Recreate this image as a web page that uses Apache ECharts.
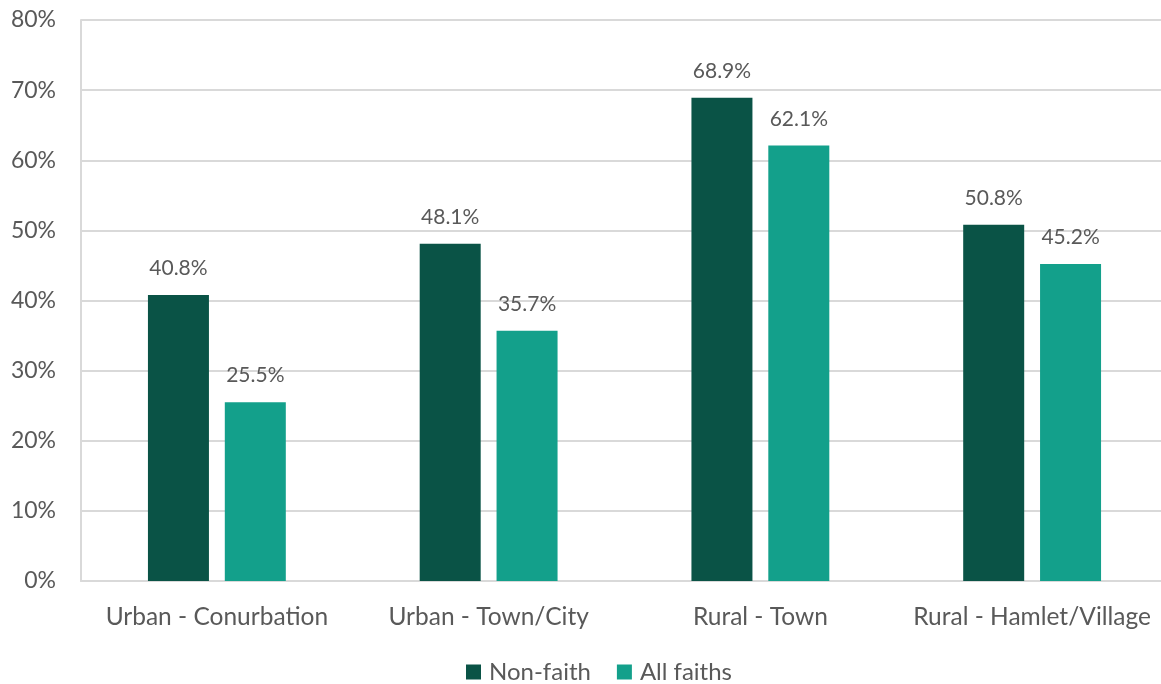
<!DOCTYPE html>
<html>
<head>
<meta charset="utf-8">
<script src="https://cdn.jsdelivr.net/npm/echarts@6/dist/echarts.min.js"></script>
<style>
  html, body { margin: 0; padding: 0; background: #fff; overflow: hidden; }
  #chart { width: 1168px; height: 684px; }
</style>
</head>
<body>
<div id="chart"></div>
<script>
const categories = ['Urban - Conurbation', 'Urban - Town/City', 'Rural - Town', 'Rural - Hamlet/Village']
const nonFaith = [40.8, 48.1, 68.9, 50.8]
const allFaiths = [25.5, 35.7, 62.1, 45.2]
const yTicks = [0, 10, 20, 30, 40, 50, 60, 70, 80]

const textColor = '#595959'
const font = 'Lato, "Open Sans", sans-serif'

const chart = echarts.init(document.getElementById('chart'))

const labelStyle = {
  show: true,
  position: 'top',
  distance: 16,
  color: textColor,
  fontFamily: font,
  fontSize: 21,
  formatter: (p) => p.value.toFixed(1) + '%'
}

// plot area runs a little past the right edge of the window, like the original
chart.setOption({
  animation: false,
  grid: { left: 81, right: 0, top: 20, bottom: 103, containLabel: false },
  legend: {
    top: 655,
    left: 461,
    itemWidth: 15,
    itemHeight: 15,
    itemGap: 26,
    icon: 'rect',
    textStyle: { color: textColor, fontFamily: font, fontSize: 24, padding: [0, 0, 0, 3] },
    data: ['Non-faith', 'All faiths']
  },
  xAxis: {
    type: 'category',
    data: categories,
    axisLine: { show: true, lineStyle: { color: '#d9d9d9', width: 2 } },
    axisTick: { show: false },
    axisLabel: { color: textColor, fontFamily: font, fontSize: 24.5, margin: 24, interval: 0 }
  },
  yAxis: {
    type: 'value',
    min: yTicks[0],
    max: yTicks[yTicks.length - 1],
    interval: 10,
    axisLine: { show: true, lineStyle: { color: '#d9d9d9', width: 2 } },
    axisTick: { show: false },
    splitLine: { lineStyle: { color: '#d9d9d9', width: 2 } },
    axisLabel: { color: textColor, fontFamily: font, fontSize: 23, margin: 25, formatter: '{value}%' }
  },
  series: [
    {
      name: 'Non-faith',
      type: 'bar',
      data: nonFaith,
      barWidth: 61,
      barGap: '26%',
      itemStyle: { color: '#0a5346' },
      label: labelStyle
    },
    {
      name: 'All faiths',
      type: 'bar',
      data: allFaiths,
      barWidth: 61,
      itemStyle: { color: '#13a08b' },
      label: labelStyle
    }
  ]
})
</script>
</body>
</html>
